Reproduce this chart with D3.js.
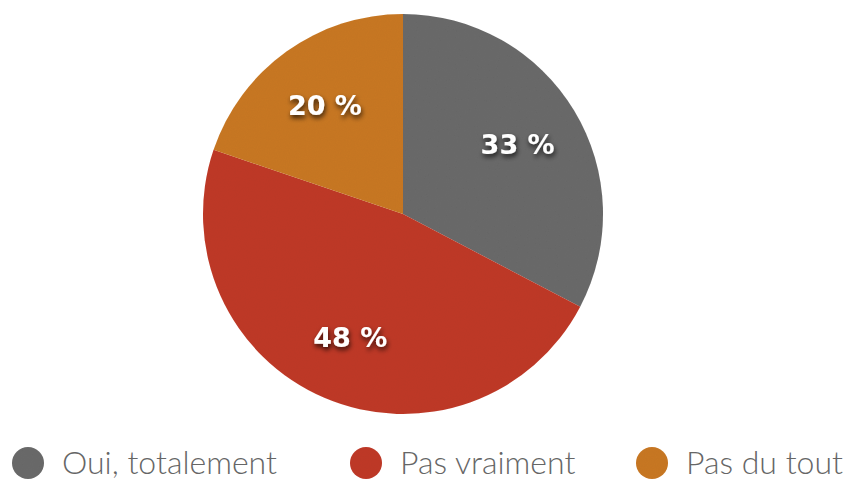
<!DOCTYPE html>
<html>
<head>
<meta charset="utf-8">
<script src="https://cdn.jsdelivr.net/npm/d3@7"></script>
<style>
  html, body { margin: 0; padding: 0; background: #fff; }
  svg { display: block; }
  .slice-label { font-family: "DejaVu Sans", sans-serif; font-weight: bold; font-size: 27px; fill: #fff; }
  .legend-text { font-family: "Lato", "Noto Sans", sans-serif; font-weight: 300; font-size: 32px; fill: #666; }
</style>
</head>
<body>
<script>
// chart data
const categories = ['Oui, totalement', 'Pas vraiment', 'Pas du tout'];
const values = [33, 48, 20];
const colors = ['#6b6b6b', '#c03b2b', '#c97828'];

const width = 851, height = 480;
const cx = 403, cy = 214, radius = 200;

const svg = d3.select('body').append('svg')
    .attr('width', width)
    .attr('height', height);

const defs = svg.append('defs');

// drop shadow for the percentage labels
const shadow = defs.append('filter')
    .attr('id', 'label-shadow')
    .attr('x', '-30%').attr('y', '-30%')
    .attr('width', '160%').attr('height', '160%');
shadow.append('feDropShadow')
    .attr('dx', 1).attr('dy', 3)
    .attr('stdDeviation', 2.5)
    .attr('flood-color', '#000')
    .attr('flood-opacity', 0.75);

// light paper grain on the slices
const grain = defs.append('filter').attr('id', 'grain');
grain.append('feTurbulence')
    .attr('type', 'fractalNoise')
    .attr('baseFrequency', 0.9)
    .attr('numOctaves', 2)
    .attr('result', 'noise');
grain.append('feColorMatrix')
    .attr('in', 'noise')
    .attr('type', 'matrix')
    .attr('values', '0 0 0 0 0  0 0 0 0 0  0 0 0 0 0  0 0 0 0.07 0')
    .attr('result', 'tint');
grain.append('feComposite')
    .attr('in', 'tint').attr('in2', 'SourceGraphic')
    .attr('operator', 'in').attr('result', 'grainIn');
grain.append('feMerge').selectAll('feMergeNode')
    .data(['SourceGraphic', 'grainIn'])
    .join('feMergeNode')
    .attr('in', d => d);

const color = d3.scaleOrdinal().domain(categories).range(colors);

const pie = d3.pie().sort(null).value(d => d.value);
const arcs = pie(categories.map((c, i) => ({ name: c, value: values[i] })));

const arc = d3.arc().innerRadius(0).outerRadius(radius);
const labelArc = d3.arc().innerRadius(radius * 0.67).outerRadius(radius * 0.67);

const g = svg.append('g').attr('transform', `translate(${cx},${cy})`);

g.selectAll('path.slice')
    .data(arcs)
    .join('path')
    .attr('class', 'slice')
    .attr('d', arc)
    .attr('fill', d => color(d.data.name))
    .attr('filter', 'url(#grain)');

g.selectAll('text.slice-label')
    .data(arcs)
    .join('text')
    .attr('class', 'slice-label')
    .attr('transform', d => `translate(${labelArc.centroid(d)})`)
    .attr('text-anchor', 'middle')
    .attr('dy', '0.35em')
    .attr('filter', 'url(#label-shadow)')
    .text(d => `${d.data.value} %`);

// legend along the bottom
const legendX = [28, 366, 652];
const legend = svg.append('g').attr('class', 'legend')
    .selectAll('g')
    .data(categories)
    .join('g')
    .attr('transform', (d, i) => `translate(${legendX[i]},463)`);

legend.append('circle')
    .attr('r', 16)
    .attr('fill', d => color(d))
    .attr('filter', 'url(#grain)');

legend.append('text')
    .attr('class', 'legend-text')
    .attr('x', 34)
    .attr('dy', '0.35em')
    .text(d => d);
</script>
</body>
</html>
